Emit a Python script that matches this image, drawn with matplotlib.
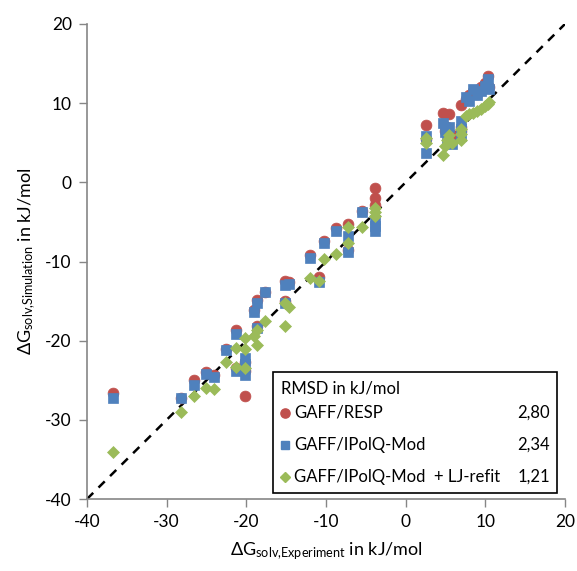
import matplotlib
matplotlib.use("Agg")
import matplotlib.pyplot as plt
from matplotlib.patches import Rectangle

plt.rcParams['font.family'] = ['Lato', 'DejaVu Sans']
plt.rcParams['mathtext.fontset'] = 'custom'
plt.rcParams['mathtext.rm'] = 'Lato'
plt.rcParams['mathtext.it'] = 'Lato'
plt.rcParams['axes.unicode_minus'] = False

# Experimental solvation free energies (kJ/mol)
x_exp = [-36.7, -28.2, -26.6, -25.1, -24.0, -22.5, -21.3, -21.3, -20.2, -20.2,
         -20.2, -18.6, -19.1, -18.6, -17.6, -15.1, -14.6, -15.2, -12.0, -10.9,
         -10.2, -8.8, -7.2, -7.2, -5.5, -3.8, -3.8, -3.8, 2.5, 2.5,
         4.7, 4.9, 5.2, 5.5, 5.8, 6.9, 6.9, 7.0, 7.6, 8.0,
         8.4, 8.9, 9.5, 10.0, 10.3, 10.5]
# GAFF/RESP
y_resp = [-26.6, -27.2, -25.0, -24.0, -24.3, -21.0, -18.7, -23.5, -27.0, -22.7,
          -23.8, -14.9, -16.1, -18.2, -13.8, -12.4, -12.6, -15.0, -9.2, -12.0,
          -7.4, -5.8, -5.2, -8.5, -3.6, -0.7, -2.0, -2.8, 7.2, 5.5,
          8.7, 6.5, 7.0, 8.6, 6.0, 9.8, 7.0, 6.5, 10.5, 11.0,
          11.5, 11.2, 12.0, 12.5, 13.4, 12.0]
# GAFF/IPolQ-Mod
y_ipolq = [-27.2, -27.3, -25.6, -24.2, -24.6, -21.2, -19.1, -23.8, -22.2, -23.0,
           -24.3, -15.3, -16.4, -18.4, -13.9, -13.0, -12.9, -15.2, -9.5, -12.6,
           -7.6, -6.2, -6.8, -8.8, -3.8, -4.8, -6.1, -5.5, 5.8, 3.7,
           7.5, 6.3, 5.5, 7.0, 4.8, 7.8, 6.8, 5.8, 10.8, 10.3,
           11.8, 11.0, 11.5, 12.2, 13.0, 11.8]
# GAFF/IPolQ-Mod + LJ-refit
y_ljrefit = [-34.1, -29.0, -27.0, -26.0, -26.1, -22.7, -20.9, -23.3, -19.7, -21.1,
             -23.5, -18.6, -19.4, -20.5, -17.5, -15.3, -15.8, -18.1, -12.1, -12.4,
             -9.7, -9.0, -5.7, -7.6, -5.7, -3.7, -4.2, -3.2, 5.6, 5.0,
             3.4, 4.6, 5.3, 6.0, 5.0, 5.3, 6.1, 6.8, 8.4, 8.6,
             8.8, 9.0, 9.3, 9.6, 9.9, 10.1]

series_labels = ['GAFF/RESP', 'GAFF/IPolQ-Mod', 'GAFF/IPolQ-Mod  + LJ-refit']
rmsd_values = ['2,80', '2,34', '1,21']
colors = ['#C0504D', '#4F81BD', '#9BBB59']
markers = ['o', 's', 'D']
msizes = [7.8, 7.4, 6.4]

ticks = [-40, -30, -20, -10, 0, 10, 20]

fig = plt.figure(figsize=(5.77, 5.71), dpi=100)
ax = fig.add_axes([87/577, 1-499/571, (565-87)/577, (499-24)/571])

ax.plot([-40, 20], [-40, 20], ls=(0, (3.5, 3.0)), color='black', lw=1.8, zorder=1)

for ys, c, m, s in zip([y_resp, y_ipolq, y_ljrefit], colors, markers, msizes):
    ax.plot(x_exp, ys, ls='none', marker=m, ms=s, color=c, mec=c, mew=0.5, zorder=2)

ax.set_xlim(-40, 20)
ax.set_ylim(-40, 20)
ax.set_xticks(ticks)
ax.set_yticks(ticks)
ax.tick_params(direction='out', length=6, width=1, color='#868686', labelsize=12.5, pad=5)
for side in ['top', 'right']:
    ax.spines[side].set_visible(False)
for side in ['left', 'bottom']:
    ax.spines[side].set_color('#868686')
    ax.spines[side].set_linewidth(1.2)

ax.set_xlabel(r'$\Delta$G$_{\mathrm{solv{,}Experiment}}$ in kJ/mol', fontsize=13, labelpad=7)
ax.set_ylabel(r'$\Delta$G$_{\mathrm{solv{,}Simulation}}$ in kJ/mol', fontsize=13, labelpad=5)

# Legend box (axes coordinates)
def ax_pt(px, py):
    return ((px - 87) / 478, (499 - py) / 475)

x0, y0 = ax_pt(273, 493)
x1, y1 = ax_pt(557, 372)
ax.add_patch(Rectangle((x0, y0), x1 - x0, y1 - y0, transform=ax.transAxes,
                       facecolor='white', edgecolor='black', lw=1.2, zorder=5))
tx, ty = ax_pt(281, 389)
ax.text(tx, ty, 'RMSD in kJ/mol', transform=ax.transAxes, fontsize=12,
        va='center', ha='left', zorder=6)
rows_py = [413, 445, 477]
for lab, val, c, m, s, py in zip(series_labels, rmsd_values, colors, markers, msizes, rows_py):
    mx, my = ax_pt(285, py)
    ax.plot([mx], [my], marker=m, ms=s * 0.85, color=c, ls='none',
            transform=ax.transAxes, zorder=6, clip_on=False)
    lx, _ = ax_pt(294, py)
    ax.text(lx, my, lab, transform=ax.transAxes, fontsize=12, va='center', ha='left', zorder=6)
    vx, _ = ax_pt(550, py)
    ax.text(vx, my, val, transform=ax.transAxes, fontsize=12, va='center', ha='right', zorder=6)

fig.savefig('out.png', dpi=100)
